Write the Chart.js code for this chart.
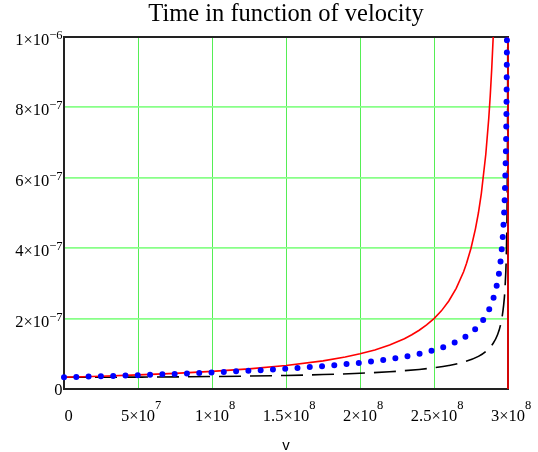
<!DOCTYPE html>
<html>
<head>
<meta charset="utf-8">
<script src="https://cdn.jsdelivr.net/npm/chart.js@4.4.0/dist/chart.umd.min.js"></script>
<style>
  html, body { margin: 0; padding: 0; background: #ffffff; }
  #wrap { width: 538px; height: 452px; }
</style>
</head>
<body>
<div id="wrap"><canvas id="c" width="538" height="452"></canvas></div>
<script>
// ---- data ----
const chartTitle = 'Time in function of velocity';
const xAxisTitle = 'v';
// tick labels: mantissa part ^ exponent part
const xTickValues = [0, 5e7, 1e8, 1.5e8, 2e8, 2.5e8, 3e8];
const xTickLabels = ['0', '5×10^7', '1×10^8', '1.5×10^8', '2×10^8', '2.5×10^8', '3×10^8'];
const yTickValues = [0, 2e-7, 4e-7, 6e-7, 8e-7, 1e-6];
const yTickLabels = ['0', '2×10^−7', '4×10^−7', '6×10^−7', '8×10^−7', '1×10^−6'];

// red solid curve
const redV = [0, 0.25e8, 0.5e8, 0.75e8, 1.0e8, 1.25e8, 1.5e8, 1.75e8, 1.9e8, 2.0e8, 2.1e8, 2.2e8, 2.3e8, 2.35e8, 2.4e8, 2.45e8, 2.5e8, 2.55e8, 2.6e8, 2.65e8, 2.7e8, 2.72e8, 2.75e8, 2.78e8, 2.8e8, 2.82e8, 2.85e8, 2.87e8, 2.88e8, 2.89e8, 2.9e8, 2.92e8, 2.95e8, 3.0e8, 3.0e8];
const redT = [3.33e-8, 3.64e-8, 4.0e-8, 4.44e-8, 5.0e-8, 5.71e-8, 6.67e-8, 8.0e-8, 9.09e-8, 1.0e-7, 1.11e-7, 1.25e-7, 1.43e-7, 1.54e-7, 1.67e-7, 1.82e-7, 2.0e-7, 2.22e-7, 2.5e-7, 2.86e-7, 3.33e-7, 3.57e-7, 4.0e-7, 4.55e-7, 5.0e-7, 5.56e-7, 6.67e-7, 7.69e-7, 8.33e-7, 9.09e-7, 1.0e-6, 1.25e-6, 2.0e-6, 2.0e-6, 0];

// blue dotted curve
const blueV = [0, 0.25e8, 0.5e8, 0.75e8, 1.0e8, 1.25e8, 1.5e8, 1.75e8, 2.0e8, 2.2e8, 2.4e8, 2.5e8, 2.6e8, 2.7e8, 2.75e8, 2.8e8, 2.85e8, 2.9e8, 2.93e8, 2.95e8, 2.97e8, 2.98e8, 2.99e8, 2.995e8];
const blueT = [3.33e-8, 3.62e-8, 3.94e-8, 4.30e-8, 4.71e-8, 5.19e-8, 5.77e-8, 6.50e-8, 7.45e-8, 8.49e-8, 1.0e-7, 1.105e-7, 1.247e-7, 1.453e-7, 1.60e-7, 1.795e-7, 2.08e-7, 2.56e-7, 3.07e-7, 3.64e-7, 4.7e-7, 5.76e-7, 8.15e-7, 1.15e-6];

// black dashed curve
const blackV = [0, 0.5e8, 1.0e8, 1.5e8, 1.75e8, 2.0e8, 2.2e8, 2.4e8, 2.5e8, 2.6e8, 2.7e8, 2.8e8, 2.85e8, 2.9e8, 2.93e8, 2.95e8, 2.97e8, 2.98e8, 2.99e8, 2.995e8, 2.998e8, 2.999e8];
const blackT = [3.33e-8, 3.38e-8, 3.54e-8, 3.85e-8, 4.10e-8, 4.47e-8, 4.90e-8, 5.56e-8, 6.03e-8, 6.68e-8, 7.65e-8, 9.28e-8, 1.067e-7, 1.30e-7, 1.55e-7, 1.83e-7, 2.36e-7, 2.89e-7, 4.08e-7, 5.78e-7, 9.13e-7, 1.29e-6];

function pts(xs, ys) { return xs.map((x, i) => ({ x: x, y: ys[i] })); }

const SERIF = '"Liberation Serif", "Times New Roman", serif';
const MAIN_FONT = '16.5px ' + SERIF;
const EXP_FONT = '12.5px ' + SERIF;

const framePlugin = {
  id: 'frame',
  beforeDatasetsDraw(chart) {
    const a = chart.chartArea, ctx = chart.ctx;
    ctx.save();
    ctx.strokeStyle = '#222222';
    ctx.lineWidth = 2;
    ctx.strokeRect(a.left, a.top, a.right - a.left, a.bottom - a.top);
    ctx.restore();
  }
};

// tick labels with raised exponents, positioned through the scales
const tickLabelPlugin = {
  id: 'tickLabels',
  afterDraw(chart) {
    const ctx = chart.ctx, xs = chart.scales.x, ys = chart.scales.y;
    ctx.save();
    ctx.fillStyle = '#000000';
    ctx.textBaseline = 'alphabetic';
    ctx.textAlign = 'left';
    const right = ys.right - 1.5;
    yTickLabels.forEach((lab, i) => {
      const py = ys.getPixelForValue(yTickValues[i]);
      const parts = lab.split('^');
      const base = parts[0], exp = parts[1] || '';
      ctx.font = EXP_FONT;
      const ew = exp ? ctx.measureText(exp).width : 0;
      ctx.font = MAIN_FONT;
      const bw = ctx.measureText(base).width;
      const baseY = exp ? py + 8 : py + 6;
      ctx.fillText(base, right - ew - bw, baseY);
      if (exp) {
        ctx.font = EXP_FONT;
        ctx.fillText(exp, right - ew, baseY - 6);
      }
    });
    const baseY = xs.top + 31.5;
    xTickLabels.forEach((lab, i) => {
      const px = xs.getPixelForValue(xTickValues[i]);
      const parts = lab.split('^');
      const base = parts[0], exp = parts[1] || '';
      ctx.font = MAIN_FONT;
      const bw = ctx.measureText(base).width;
      const cx = exp ? px : px + 4.5;
      ctx.fillText(base, cx - bw / 2, baseY);
      if (exp) {
        ctx.font = EXP_FONT;
        ctx.fillText(exp, cx + bw / 2, baseY - 11.5);
      }
    });
    ctx.restore();
  }
};

new Chart(document.getElementById('c'), {
  type: 'line',
  data: {
    datasets: [
      {
        label: 'blue',
        data: pts(blueV, blueT),
        borderColor: '#0000ff',
        borderWidth: 6,
        borderDash: [0, 12.3],
        borderCapStyle: 'round',
        pointRadius: 0,
        fill: false,
        cubicInterpolationMode: 'monotone',
        clip: 3
      },
      {
        label: 'red',
        data: pts(redV, redT),
        borderColor: '#ff0000',
        borderWidth: 1.6,
        pointRadius: 0,
        fill: false,
        tension: 0,
        clip: { left: 0, top: 0, right: 3, bottom: 0 }
      },
      {
        label: 'black',
        data: pts(blackV, blackT),
        borderColor: '#000000',
        borderWidth: 1.6,
        borderDash: [22, 9],
        pointRadius: 0,
        fill: false,
        cubicInterpolationMode: 'monotone',
        clip: 0
      }
    ]
  },
  options: {
    responsive: false,
    animation: false,
    devicePixelRatio: 1,
    layout: { padding: { left: 0, right: 30, top: 0, bottom: 0 } },
    plugins: {
      legend: { display: false },
      tooltip: { enabled: false },
      title: {
        display: true,
        text: chartTitle,
        fullSize: false,
        color: '#000000',
        font: { family: SERIF, size: 24.5, weight: 'normal' },
        padding: { top: 0, bottom: 7.6 }
      }
    },
    scales: {
      x: {
        type: 'linear',
        min: 0,
        max: 3e8,
        afterFit(s) { s.height = 63; },
        afterBuildTicks(s) { s.ticks = xTickValues.map(v => ({ value: v })); },
        ticks: { display: false, autoSkip: false },
        grid: { color: '#55ee55', lineWidth: 1, drawTicks: false },
        border: { display: false },
        title: {
          display: true,
          text: xAxisTitle,
          color: '#000000',
          font: { family: '"Liberation Sans", Arial, sans-serif', size: 15, lineHeight: 0.85 },
          padding: { top: 0, bottom: 0 }
        }
      },
      y: {
        type: 'linear',
        min: 0,
        max: 1e-6,
        afterFit(s) { s.width = 64; },
        afterBuildTicks(s) { s.ticks = yTickValues.map(v => ({ value: v })); },
        ticks: { display: false, autoSkip: false },
        grid: { color: '#88ff88', lineWidth: 1.8, drawTicks: false },
        border: { display: false }
      }
    }
  },
  plugins: [framePlugin, tickLabelPlugin]
});
</script>
</body>
</html>
